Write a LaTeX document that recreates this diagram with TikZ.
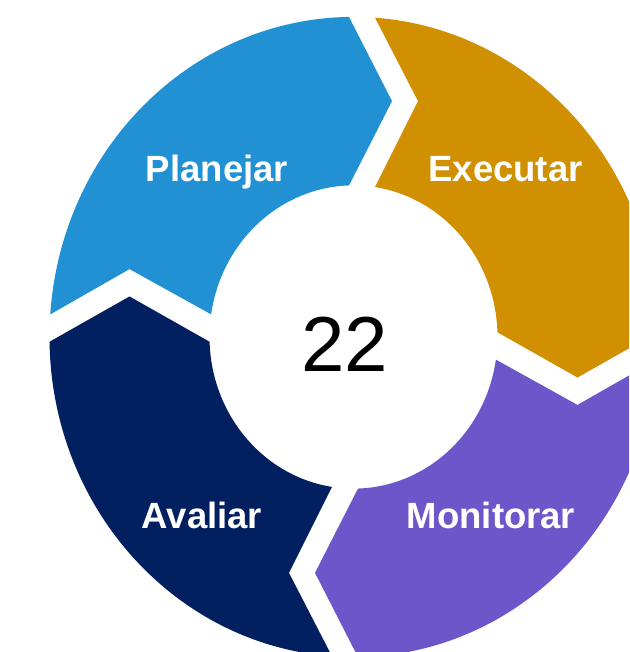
\documentclass[tikz,border=0pt]{standalone}
\usepackage{fontspec}
\setmainfont{Liberation Sans}

\definecolor{planblue}{RGB}{34,145,212}
\definecolor{execgold}{RGB}{208,144,2}
\definecolor{monpurple}{RGB}{108,86,202}
\definecolor{avalnavy}{RGB}{2,32,96}

% ring geometry (pt)
\newcommand{\ringout}{304}
\newcommand{\ringin}{144}
\newcommand{\ringmid}{224}
\newcommand{\gapin}{4.5}
\newcommand{\gapout}{21.5}
\newcommand{\segdepth}{43}

\begin{document}
\begin{tikzpicture}[
    x=1pt, y=1pt,
    phase/.style={text=white, font=\fontsize{36.5}{40}\selectfont\bfseries, anchor=base, inner sep=0pt},
    count/.style={text=black, font=\fontsize{78}{80}\selectfont, anchor=base, inner sep=0pt}
]
\useasboundingbox (-353.5,-315) rectangle (275.5,337);
\clip (-353.5,-315) rectangle (275.5,337);

% Ring segments
\begin{scope}[yscale=1.053]
\foreach \ang/\col in {0/planblue, -90/execgold, -180/monpurple, 90/avalnavy} {
  \fill[\col, rotate=\ang]
    ({180-asin(\gapout/\ringout)}:\ringout)
    -- (-\ringmid, \gapout+\segdepth)
    -- ({180-asin(\gapout/\ringin)}:\ringin)
    arc[start angle={180-asin(\gapout/\ringin)}, end angle={90+asin(\gapin/\ringin)}, radius=\ringin]
    -- (-\gapin+\segdepth, \ringmid)
    -- ({90+asin(\gapin/\ringout)}:\ringout)
    arc[start angle={90+asin(\gapin/\ringout)}, end angle={180-asin(\gapout/\ringout)}, radius=\ringout]
    -- cycle;
}
\end{scope}

% Labels
\node[phase] (planejar) at (-136.5,155) {Planejar};
\node[phase] (executar) at (152,155) {Executar};
\node[phase] (monitorar) at (137.5,-191) {Monitorar};
\node[phase] (avaliar) at (-151.5,-191) {Avaliar};
\node[count] (total) at (-9,-35) {22};

\end{tikzpicture}
\end{document}
